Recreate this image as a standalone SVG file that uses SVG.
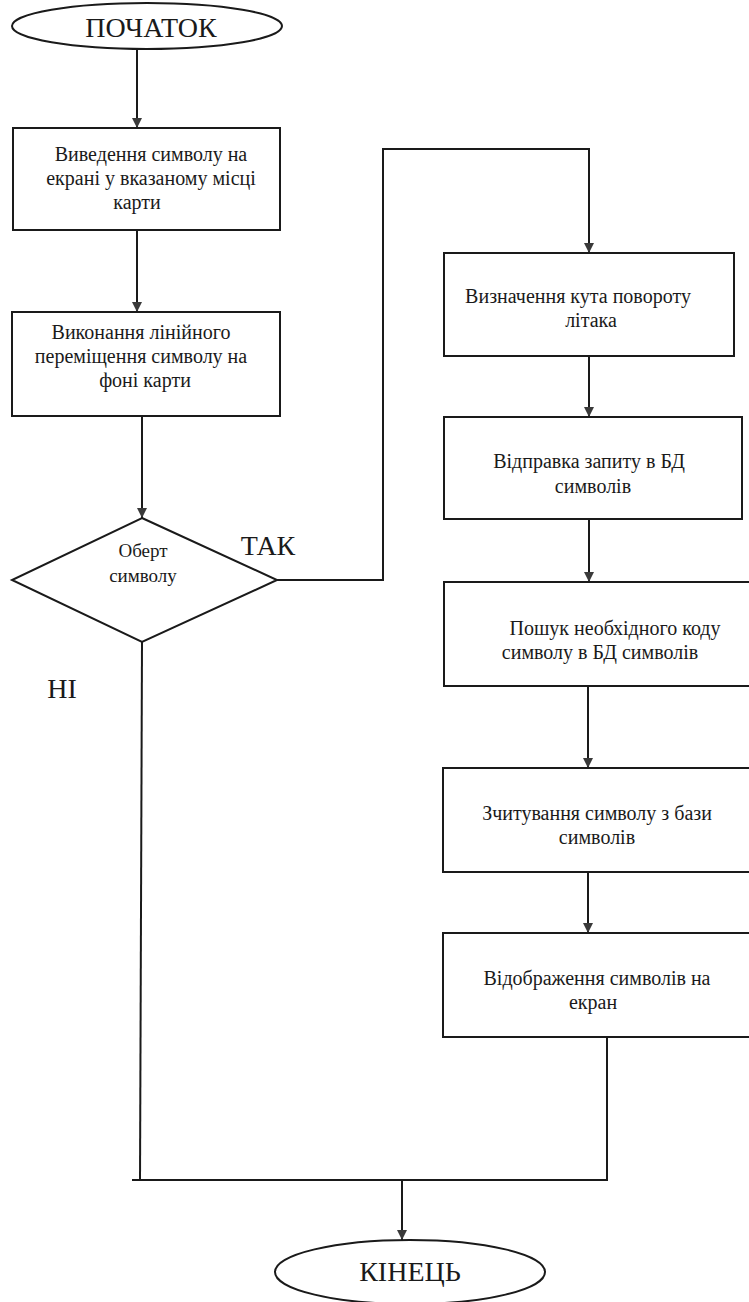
<svg xmlns="http://www.w3.org/2000/svg" width="749" height="1302" viewBox="0 0 749 1302">
<style>
.shape{fill:#ffffff;stroke:#1a1a1a;stroke-width:2}
.conn{fill:none;stroke:#1a1a1a;stroke-width:2}
.t{font-family:"Liberation Serif","Times New Roman","DejaVu Serif",serif;fill:#1a1a1a;text-anchor:middle}
.box{font-size:20px}
.big{font-size:28px}
.dec{font-size:19px}
</style>
<defs>
<marker id="arr" viewBox="0 0 10 10" refX="10" refY="5" markerWidth="10" markerHeight="10" markerUnits="userSpaceOnUse" orient="auto">
<path d="M0,0 L10,5 L0,10 Z" fill="#3a3a3a"/>
</marker>
</defs>
<rect width="749" height="1302" fill="#ffffff"/>
<g id="connectors">
<line class="conn" x1="137" y1="49" x2="137" y2="128" marker-end="url(#arr)"/>
<line class="conn" x1="137" y1="230" x2="137" y2="312" marker-end="url(#arr)"/>
<line class="conn" x1="142" y1="416" x2="142" y2="518" marker-end="url(#arr)"/>
<polyline class="conn" points="277,580 383,580 383,149 589,149 589,253" marker-end="url(#arr)"/>
<line class="conn" x1="589" y1="356" x2="589" y2="417" marker-end="url(#arr)"/>
<line class="conn" x1="589" y1="519" x2="589" y2="582" marker-end="url(#arr)"/>
<line class="conn" x1="588" y1="686" x2="588" y2="768" marker-end="url(#arr)"/>
<line class="conn" x1="588" y1="872" x2="588" y2="933" marker-end="url(#arr)"/>
<polyline class="conn" points="142,642 140,1180"/>
<polyline class="conn" points="607,1037 607,1180 132,1180"/>
<line class="conn" x1="402" y1="1180" x2="402" y2="1240" marker-end="url(#arr)"/>
<text class="t big" x="268" y="555">ТАК</text>
<text class="t big" x="62" y="698">НІ</text>
</g>
<g id="start">
<ellipse class="shape" cx="147" cy="26" rx="135" ry="23"/>
<text class="t big" x="151" y="37">ПОЧАТОК</text>
</g>
<g id="box1">
<rect class="shape" x="13" y="128" width="267" height="102"/>
<text class="t box" x="151" y="161">Виведення символу на</text>
<text class="t box" x="151" y="185">екрані у вказаному місці</text>
<text class="t box" x="137" y="209">карти</text>
</g>
<g id="box2">
<rect class="shape" x="12" y="312" width="268" height="104"/>
<text class="t box" x="141" y="339">Виконання лінійного</text>
<text class="t box" x="141" y="363">переміщення символу на</text>
<text class="t box" x="145" y="387">фоні карти</text>
</g>
<g id="decision">
<polygon class="shape" points="142,518 277,580 142,642 12,580"/>
<text class="t dec" x="143" y="557">Оберт</text>
<text class="t dec" x="143" y="582">символу</text>
</g>
<g id="box3">
<rect class="shape" x="444" y="253" width="290" height="103"/>
<text class="t box" x="578" y="303">Визначення кута повороту</text>
<text class="t box" x="591" y="327">літака</text>
</g>
<g id="box4">
<rect class="shape" x="444" y="417" width="298" height="102"/>
<text class="t box" x="589" y="468">Відправка запиту в БД</text>
<text class="t box" x="593" y="493">символів</text>
</g>
<g id="box5">
<rect class="shape" x="444" y="582" width="320" height="104"/>
<text class="t box" x="615" y="635">Пошук необхідного коду</text>
<text class="t box" x="600" y="659">символу в БД символів</text>
</g>
<g id="box6">
<rect class="shape" x="443" y="768" width="320" height="104"/>
<text class="t box" x="597" y="820">Зчитування символу з бази</text>
<text class="t box" x="597" y="844">символів</text>
</g>
<g id="box7">
<rect class="shape" x="443" y="933" width="320" height="104"/>
<text class="t box" x="597" y="985">Відображення символів на</text>
<text class="t box" x="593" y="1009">екран</text>
</g>
<g id="end">
<ellipse class="shape" cx="410" cy="1272" rx="135" ry="32"/>
<text class="t big" x="410" y="1281">КІНЕЦЬ</text>
</g>
</svg>
